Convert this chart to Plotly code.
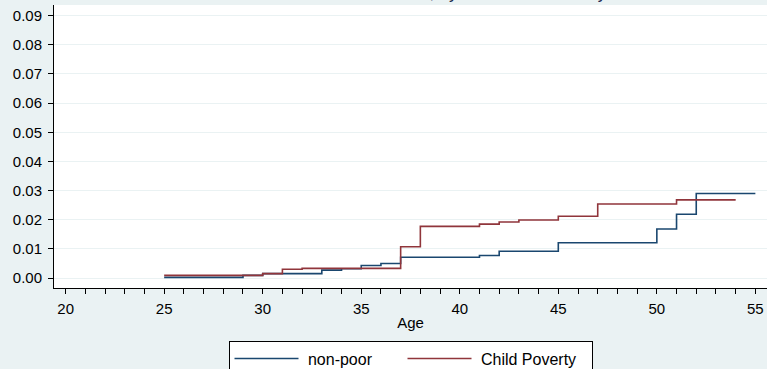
import plotly.graph_objects as go

# Data: Nelson-Aalen cumulative hazard step functions
nonpoor_age = [25, 29, 30, 33, 34, 35, 36, 37, 41, 42, 45, 50, 51, 52, 55]
nonpoor_haz = [0.0002, 0.0009, 0.0015, 0.0027, 0.0032, 0.0043, 0.0050, 0.0071,
               0.0077, 0.0092, 0.0121, 0.0168, 0.0219, 0.0290, 0.0290]
pov_age = [25, 30, 31, 32, 37, 38, 41, 42, 43, 45, 47, 51, 54]
pov_haz = [0.0009, 0.0015, 0.0030, 0.0033, 0.0107, 0.0177, 0.0185, 0.0192,
           0.0199, 0.0212, 0.0254, 0.0268, 0.0268]

y_ticks = [0.00, 0.01, 0.02, 0.03, 0.04, 0.05, 0.06, 0.07, 0.08, 0.09]
x_ticks = [20, 25, 30, 35, 40, 45, 50, 55]
series_names = ["non-poor", "Child Poverty"]
title_text = "Nelson-Aalen cumulative hazard estimates, by Childhood Poverty"

NAVY = "#1A476F"
MAROON = "#90353B"
BG = "#EAF2F3"
FONT = "Liberation Sans, Arial, sans-serif"
NB = "\u00a0"

fig = go.Figure()
fig.add_trace(go.Scatter(x=nonpoor_age, y=nonpoor_haz, mode="lines", line_shape="hv",
                         line=dict(color=NAVY, width=1.6), name=NB + series_names[0],
                         legendwidth=94))
fig.add_trace(go.Scatter(x=pov_age, y=pov_haz, mode="lines", line_shape="hv",
                         line=dict(color=MAROON, width=1.6), name=NB + series_names[1],
                         legendwidth=110))

fig.update_layout(
    width=767, height=369,
    margin=dict(l=54, r=0, t=5, b=81, autoexpand=False),
    paper_bgcolor=BG, plot_bgcolor="white",
    font=dict(family=FONT, size=15, color="black"),
    showlegend=True,
    legend=dict(orientation="h", x=0.5, xanchor="center", y=-0.186, yanchor="top",
                bgcolor="white", bordercolor="black", borderwidth=1,
                itemwidth=64, font=dict(size=16), traceorder="normal"),
    annotations=[dict(text=title_text, xref="paper", yref="paper", x=0.0568, y=1.0035,
                      xanchor="left", yanchor="bottom", showarrow=False,
                      font=dict(size=17.6, color="#1C2B4F", family=FONT))],
)
fig.update_xaxes(range=[19.41, 55.59], tickmode="array", tickvals=x_ticks,
                 ticks="outside", ticklen=5, tickcolor="black", tickwidth=1,
                 ticklabelstandoff=2,
                 showline=True, linecolor="black", linewidth=1, showgrid=False,
                 zeroline=False, minor=dict(dtick=1, tick0=20, ticks="outside", ticklen=5,
                                            tickcolor="black", tickwidth=1, showgrid=False),
                 title=dict(text="Age", standoff=1, font=dict(size=15)), automargin=False)
fig.update_yaxes(range=[-0.00343, 0.09367], tickmode="array", tickvals=y_ticks,
                 tickformat=".2f", ticks="outside", ticklen=5, tickcolor="black", tickwidth=1,
                 ticklabelstandoff=3,
                 showline=True, linecolor="black", linewidth=1, showgrid=True,
                 gridcolor=BG, gridwidth=1, zeroline=False, automargin=False)

fig.write_html("out.html")
